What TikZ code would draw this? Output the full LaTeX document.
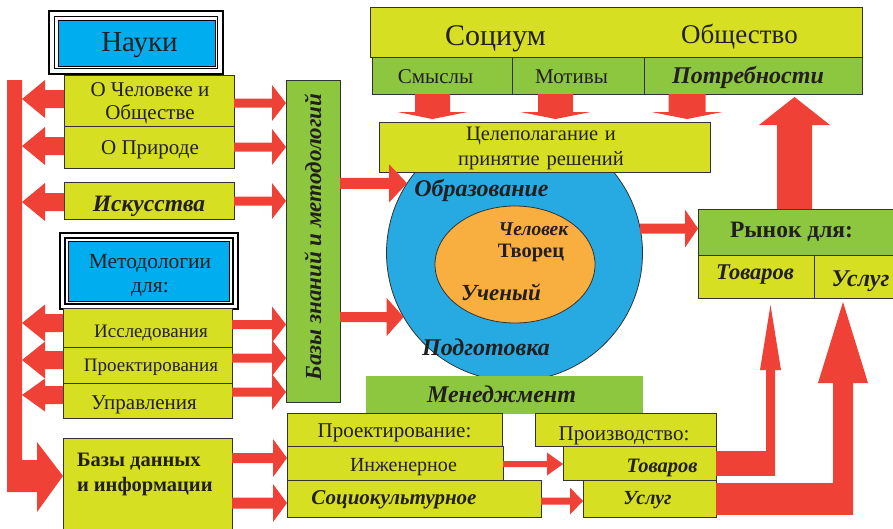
\documentclass[tikz,border=0pt]{standalone}
\usepackage{fontspec}
\setmainfont{Liberation Serif}
\usetikzlibrary{arrows.meta,calc,shapes.geometric}
\definecolor{yg}{HTML}{D7DF23}
\definecolor{gr}{HTML}{8DC63F}
\definecolor{bl}{HTML}{00AEEF}
\definecolor{cb}{HTML}{27AAE1}
\definecolor{og}{HTML}{F9AE40}
\definecolor{rd}{HTML}{EF4136}
\definecolor{tx}{HTML}{231F20}
\newcommand{\fz}[2]{\fontsize{#1}{#2}\selectfont}
% block arrow: start, tip, shaft half width, head half width, head length
\newcommand{\blk}[5]{%
  \coordinate (bkH) at ($(#2)!#5!(#1)$);
  \fill[rd] ($(#1)!#3!90:(#2)$) -- ($(bkH)!#3!90:(#2)$) -- ($(bkH)!#4!90:(#2)$) -- (#2)
    -- ($(bkH)!#4!-90:(#2)$) -- ($(bkH)!#3!-90:(#2)$) -- ($(#1)!#3!-90:(#2)$) -- cycle;}
\begin{document}
\begin{tikzpicture}[x=1pt,y=-1pt,
  bx/.style={draw=black!80, line width=0.9pt, inner sep=0pt, outer sep=0pt, align=center, text=tx},
  yb/.style={bx, fill=yg},
  gb/.style={bx, fill=gr},
  frm/.style={draw=black, line width=1.6pt, inner sep=0pt, outer sep=0pt},
  t/.style={inner sep=0pt, outer sep=0pt, text=tx, align=center},
  bi/.style={t, font=\bfseries\itshape\fz{#1}{#1}},
  rg/.style={t, font=\fz{#1}{#1}}]
\useasboundingbox (0,0) rectangle (893,528);

% ---------- circle ----------
\node[circle, draw=black!80, line width=0.8pt, fill=cb, minimum size=256pt, inner sep=0pt, outer sep=0pt] (circ) at (514.5,253) {};
\node[ellipse, draw=black!80, line width=0.8pt, fill=og, minimum width=160pt, minimum height=117pt, inner sep=0pt, outer sep=0pt] (ell) at (515,264.5) {};
\node[bi=24] (obr) at (481.5,190) {Образование};
\node[bi=19.5] (chelov) at (533.5,229) {Человек};
\node[t, font=\bfseries\fz{20.5}{20.5}] (tvor) at (531,253) {Творец};
\node[bi=23] (uch) at (501,292) {Ученый};
\node[bi=24] (podg) at (486,347) {Подготовка};

% ---------- top ----------
\node[yb, minimum width=492pt, minimum height=50pt] (soc) at (616,32) {};
\node[rg=30] (soct) at (495.5,39) {Социум};
\node[rg=27] (obsh) at (739.5,37) {Общество};
\node[gb, minimum width=140pt, minimum height=37pt] (smysly) at (442,75.5) {};
\node[rg=21] (smyslyt) at (435.5,76.5) {Смыслы};
\node[gb, minimum width=132pt, minimum height=37pt] (motivy) at (578,75.5) {};
\node[rg=21] (motivyt) at (571.5,76.5) {Мотивы};
\node[gb, minimum width=218pt, minimum height=37pt] (potreb) at (753,75.5) {};
\node[bi=24] (potrebt) at (748,77.5) {Потребности};
\node[yb, minimum width=331pt, minimum height=50pt] (tsel) at (544.5,147) {};
\node[t, font=\fz{20.5}{25}, text width=220pt] (tselt) at (541,148.5) {Целеполагание и\\принятие решений};

% ---------- market ----------
\node[gb, minimum width=197pt, minimum height=46pt] (rynok) at (796.5,232) {};
\node[t, font=\bfseries\fz{23.5}{23.5}] (rynt) at (791.5,232) {Рынок для:};
\node[yb, minimum width=116pt, minimum height=43pt] (rtov) at (756,276.5) {};
\node[bi=22.5] (rtovt) at (755,275) {Товаров};
\node[yb, minimum width=81pt, minimum height=43pt] (rusl) at (854.5,276.5) {};
\node[bi=24] (ruslt) at (860.5,281) {Услуг};

% ---------- management ----------
\node[fill=gr, inner sep=0pt, outer sep=0pt, minimum width=277pt, minimum height=38pt] (mened) at (504.5,395) {};
\node[bi=24] (menedt) at (501.5,394) {Менеджмент};
\node[yb, minimum width=215pt, minimum height=33pt] (proektir) at (394.5,429.5) {};
\node[rg=21] (proektirt) at (394.5,433) {Проектирование:};
\node[yb, minimum width=181pt, minimum height=33pt] (proizv) at (625.5,429.5) {};
\node[rg=21] (proizvt) at (624,436) {Производство:};
\node[yb, minimum width=216pt, minimum height=34pt] (inzh) at (395,463) {};
\node[rg=20] (inzht) at (403.5,467) {Инженерное};
\node[yb, minimum width=153pt, minimum height=34pt] (ptov) at (639.5,463) {};
\node[bi=20.5] (ptovt) at (662,468) {Товаров};
\node[yb, minimum width=254pt, minimum height=37pt] (sotsio) at (414,498.5) {};
\node[bi=21] (sotsiot) at (394,500) {Социокультурное};
\node[yb, minimum width=133pt, minimum height=37pt] (pusl) at (649.5,498.5) {};
\node[bi=20] (puslt) at (647.5,500) {Услуг};

% ---------- left column ----------
\node[frm, fill=white, minimum width=174pt, minimum height=63pt] (naukf) at (136,42.5) {};
\node[frm, minimum width=163pt, minimum height=52pt] (naukf2) at (136,42.5) {};
\node[bx, draw=black, fill=bl, minimum width=157pt, minimum height=46pt] (nauki) at (136.5,43) {};
\node[rg=29] (naukit) at (139.5,45.5) {Науки};
\node[yb, minimum width=170pt, minimum height=51pt] (chel) at (149,100.5) {};
\node[t, font=\fz{21}{23}] (chelt) at (150,103.5) {О Человеке и\\Обществе};
\node[yb, minimum width=170pt, minimum height=42pt] (prir) at (149,147) {};
\node[rg=21] (prirt) at (150,150) {О Природе};
\node[yb, minimum width=170pt, minimum height=37pt] (isk) at (149,200.5) {};
\node[bi=23.5] (iskt) at (149,206) {Искусства};
\node[frm, fill=white, minimum width=178pt, minimum height=76pt] (metf) at (149,271) {};
\node[frm, minimum width=168pt, minimum height=66pt] (metf2) at (149,271) {};
\node[bx, draw=black, fill=bl, minimum width=161pt, minimum height=60pt] (metod) at (149,271.5) {};
\node[t, font=\fz{21.5}{24}] (metodt) at (150,276) {Методологии\\для:};
\node[yb, minimum width=169pt, minimum height=39pt] (issl) at (147.5,327.5) {};
\node[rg=19] (isslt) at (151,333) {Исследования};
\node[yb, minimum width=169pt, minimum height=36pt] (proekt) at (147.5,365) {};
\node[rg=19] (proektt) at (151,367) {Проектирования};
\node[yb, minimum width=169pt, minimum height=35pt] (uprav) at (147.5,400.5) {};
\node[rg=21] (upravt) at (144,404.5) {Управления};
\node[yb, minimum width=169pt, minimum height=97pt] (bazy) at (147.5,486.5) {};
\node[t, align=left, anchor=west, font=\bfseries\fz{20.5}{25}] (bazyt) at (77,474) {Базы данных\\и информации};

% ---------- green bar ----------
\node[gb, minimum width=54pt, minimum height=322pt] (bz) at (313,241) {};
\node[bi=23, rotate=90] (bzt) at (313,237) {Базы знаний и методологий};

% ---------- left red bar ----------
\coordinate (barR) at (22,80);
\coordinate (lbt) at ($(bazy.west)+(0,-10.5)$);
\fill[rd] (7,80) -- (barR) -- (22,460) -- (37,460) -- (37,442) -- (lbt) -- (37,512) -- (37,492) -- (7,492) -- cycle;

% left arrows
\coordinate (l1s) at ($(chel.west)+(0,-1.5)$);   \coordinate (l1e) at (barR |- l1s);
\coordinate (l2s) at ($(prir.west)+(0,-1)$);     \coordinate (l2e) at (barR |- l2s);
\coordinate (l3s) at ($(isk.west)+(0,1.5)$);     \coordinate (l3e) at (barR |- l3s);
\coordinate (l4s) at ($(issl.west)+(0,-4.5)$);   \coordinate (l4e) at (barR |- l4s);
\coordinate (l5s) at ($(proekt.west)+(0,-5)$);   \coordinate (l5e) at (barR |- l5s);
\coordinate (l6s) at ($(uprav.west)+(0,-5.5)$);  \coordinate (l6e) at (barR |- l6s);
\blk{l1s}{l1e}{9pt}{19pt}{23pt}
\blk{l2s}{l2e}{9pt}{19pt}{23pt}
\blk{l3s}{l3e}{9pt}{19pt}{23pt}
\blk{l4s}{l4e}{9pt}{18.5pt}{23pt}
\blk{l5s}{l5e}{9pt}{18.5pt}{23pt}
\blk{l6s}{l6e}{9pt}{16.5pt}{23pt}

% right arrows to green bar
\coordinate (r1s) at ($(chel.east)+(0,2.5)$);    \coordinate (r1e) at (bz.west |- r1s);
\coordinate (r2s) at (prir.east);                \coordinate (r2e) at (bz.west |- r2s);
\coordinate (r3s) at ($(isk.east)+(0,0.5)$);     \coordinate (r3e) at (bz.west |- r3s);
\coordinate (r4s) at ($(issl.east)+(0,-3)$);     \coordinate (r4e) at (bz.west |- r4s);
\coordinate (r5s) at ($(proekt.east)+(0,-7)$);   \coordinate (r5e) at (bz.west |- r5s);
\coordinate (r6s) at ($(uprav.east)+(0,-8.5)$);  \coordinate (r6e) at (bz.west |- r6s);
\coordinate (r7s) at ($(bazy.east)+(0,-28.5)$);  \coordinate (r7e) at (inzh.west |- r7s);
\coordinate (r8s) at ($(bazy.east)+(0,16.5)$);   \coordinate (r8e) at (sotsio.west |- r8s);
\foreach \i in {1,...,6} {\blk{r\i s}{r\i e}{4.5pt}{18pt}{14pt}}
\blk{r7s}{r7e}{5pt}{19pt}{14pt}
\blk{r8s}{r8e}{5.5pt}{19pt}{14pt}

% green bar to circle, circle to market
\coordinate (c1e) at (circ.147); \coordinate (c1s) at (bz.east |- c1e);
\coordinate (c2e) at (circ.210); \coordinate (c2s) at (bz.east |- c2e);
\coordinate (c3s) at (circ.11);  \coordinate (c3e) at (rynok.west |- c3s);
\blk{c1s}{c1e}{5.5pt}{19pt}{18pt}
\blk{c2s}{c2e}{5pt}{19pt}{17pt}
\blk{c3s}{c3e}{5pt}{19pt}{13pt}

% down arrows from society
\coordinate (d1s) at ($(smysly.south)+(-9.5,0)$); \coordinate (d1e) at ($(d1s |- tsel.north)+(0,-3)$);
\coordinate (d2s) at ($(motivy.south)+(-22.5,0)$); \coordinate (d2e) at ($(d2s |- tsel.north)+(0,-3)$);
\coordinate (d3s) at ($(potreb.south)+(-66,0)$); \coordinate (d3e) at ($(d3s |- tsel.north)+(0,-3)$);
\blk{d1s}{d1e}{17.5pt}{35pt}{7pt}
\blk{d2s}{d2e}{17.5pt}{35pt}{7pt}
\blk{d3s}{d3e}{18.5pt}{35.5pt}{7pt}

% up arrow to needs
\coordinate (u1s) at ($(rynok.north)+(-2,0)$); \coordinate (u1e) at ($(u1s |- potreb.south)+(0,3)$);
\blk{u1s}{u1e}{17.5pt}{35.5pt}{28pt}

% design to production
\coordinate (p1s) at ($(inzh.east)+(0,1)$);    \coordinate (p1e) at (ptov.west |- p1s);
\coordinate (p2s) at ($(sotsio.east)+(0,2.5)$); \coordinate (p2e) at (pusl.west |- p2s);
\blk{p1s}{p1e}{3pt}{11.5pt}{16pt}
\blk{p2s}{p2e}{3.5pt}{13.5pt}{13pt}

% production to market
\fill[rd] ($(ptov.east)+(0,-12.5)$) rectangle ($(ptov.east)+(59,12.5)$);
\coordinate (m1s) at ($(ptov.east)+(54.5,12.5)$); \coordinate (m1e) at ($(rtov.south)+(14.5,7)$);
\blk{m1s}{m1e}{4.5pt}{10.5pt}{65pt}
\fill[rd] ($(pusl.east)+(0,-16)$) rectangle ($(pusl.east)+(137,16)$);
\coordinate (m2s) at ($(pusl.east)+(127,16)$); \coordinate (m2e) at ($(rusl.south)+(-11.5,4)$);
\blk{m2s}{m2e}{10pt}{25pt}{81pt}
\end{tikzpicture}
\end{document}
